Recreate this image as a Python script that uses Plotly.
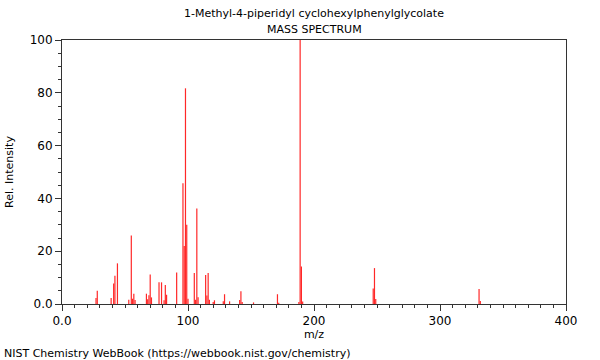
import plotly.graph_objects as go

mz = [27, 28, 39, 41, 42, 44, 53, 55, 56, 57, 58, 67, 68, 69, 70, 71, 77, 79, 81, 82, 83,
      91, 96, 97, 98, 99, 100, 105, 106, 107, 108, 114, 115, 116, 117, 120, 121,
      128, 129, 133, 141, 142, 143, 152, 171, 172, 188, 189, 190, 191, 247, 248, 249,
      331, 332]
intensity = [2.3, 5.0, 2.3, 7.8, 10.7, 15.4, 1.6, 25.9, 2.0, 3.9, 1.5, 3.9, 1.8, 3.3, 11.2, 2.5,
             8.2, 8.2, 1.4, 7.2, 3.5, 11.9, 45.7, 22.0, 81.7, 30.0, 2.0, 11.7, 1.6, 36.2, 2.6,
             11.0, 3.2, 11.7, 1.6, 0.8, 1.4, 1.0, 3.7, 1.0, 1.5, 4.8, 0.8, 0.6, 3.7, 0.5,
             0.8, 100.0, 14.2, 0.9, 5.9, 13.6, 1.9, 5.7, 1.1]

x_ticks = [0, 100, 200, 300, 400]
x_ticktext = ["0.0", "100", "200", "300", "400"]
y_ticks = [0, 20, 40, 60, 80, 100]
y_ticktext = ["0.0", "20", "40", "60", "80", "100"]

title_line1 = "1-Methyl-4-piperidyl cyclohexylphenylglycolate"
title_line2 = "MASS SPECTRUM"
footer = "NIST Chemistry WebBook (https://webbook.nist.gov/chemistry)"

xs, ys = [], []
for m, v in zip(mz, intensity):
    xs += [m, m, None]
    ys += [0, v, None]

fig = go.Figure()
fig.add_trace(go.Scatter(x=xs, y=ys, mode="lines",
                         line=dict(color="rgb(255,40,40)", width=1.2),
                         hoverinfo="skip", showlegend=False))

font = dict(family="DejaVu Sans", size=11, color="black")

fig.update_layout(
    width=600, height=360,
    margin=dict(l=62, r=34, t=40, b=56),
    paper_bgcolor="white", plot_bgcolor="white",
    font=font,
    showlegend=False,
    hovermode=False,
    xaxis=dict(range=[0, 400], tickvals=x_ticks, ticktext=x_ticktext,
               automargin=False,
               showgrid=False, zeroline=False, showline=True, linecolor="#333",
               linewidth=1, mirror=True, ticks="outside", ticklen=6, tickcolor="#333",
               minor=dict(dtick=10, ticks="outside", ticklen=3, tickcolor="#333"),
               title=dict(text="m/z", font=font, standoff=1),
               tickfont=dict(family="DejaVu Sans", size=12, color="black")),
    yaxis=dict(range=[0, 100], tickvals=y_ticks, ticktext=y_ticktext,
               automargin=False,
               showgrid=False, zeroline=False, showline=True, linecolor="#333",
               linewidth=1, mirror=True, ticks="outside", ticklen=6, tickcolor="#333",
               minor=dict(dtick=5, ticks="outside", ticklen=3, tickcolor="#333"),
               title=dict(text="Rel. Intensity", font=font, standoff=13),
               tickfont=dict(family="DejaVu Sans", size=12, color="black")),
    annotations=[
        dict(text=title_line1, xref="paper", yref="paper", x=0.5, y=1,
             xanchor="center", yanchor="bottom", yshift=18, showarrow=False, font=font),
        dict(text=title_line2, xref="paper", yref="paper", x=0.5, y=1,
             xanchor="center", yanchor="bottom", yshift=2, showarrow=False, font=font),
        dict(text=footer, xref="paper", yref="paper", x=(2 - 62) / 504, y=0,
             xanchor="left", yanchor="middle", yshift=-49, showarrow=False, font=font),
    ],
)

fig.write_html("out.html",
               config={"displayModeBar": False},
               post_script="document.body.style.margin='0';document.body.style.overflow='hidden';")
